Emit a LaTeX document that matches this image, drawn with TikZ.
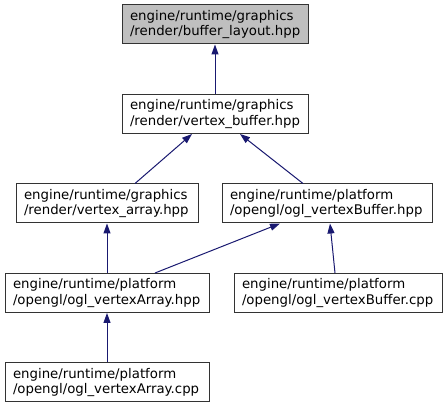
\documentclass[tikz,border=0pt]{standalone}
\usepackage{fontspec}
\setmainfont{DejaVu Sans}
\usepackage{xcolor}
\usepackage{tikz}
\usetikzlibrary{arrows.meta}
\definecolor{depblue}{HTML}{191970}
\definecolor{rootgray}{HTML}{BFBFBF}
\definecolor{framegray}{HTML}{333333}
\tikzset{
  file/.style={draw=framegray,line width=1pt,align=left,inner xsep=8pt,inner ysep=0pt,minimum height=39pt,font=\fontsize{13.3}{15.5}\selectfont},
  dep/.style={depblue,line width=1pt,-{Triangle[length=10pt,width=7pt]}}
}

\begin{document}
\begin{tikzpicture}[x=1pt,y=1pt]
\useasboundingbox (0,0) rectangle (447,409);
\node[file,fill=rootgray,text width=170pt] (layout) at (215,384.5) {engine/runtime/graphics\\/render/buffer\_layout.hpp};
\node[file,text width=170pt] (vbuf) at (215,295) {engine/runtime/graphics\\/render/vertex\_buffer.hpp};
\node[file,text width=166pt] (varr) at (107,205.5) {engine/runtime/graphics\\/render/vertex\_array.hpp};
\node[file,text width=194pt] (oglvbufh) at (327,205.5) {engine/runtime/platform\\/opengl/ogl\_vertexBuffer.hpp};
\node[file,text width=188pt] (oglvarrh) at (107,116) {engine/runtime/platform\\/opengl/ogl\_vertexArray.hpp};
\node[file,text width=192pt] (oglvbufc) at (338,116) {engine/runtime/platform\\/opengl/ogl\_vertexBuffer.cpp};
\node[file,text width=188pt] (oglvarrc) at (107,26.5) {engine/runtime/platform\\/opengl/ogl\_vertexArray.cpp};
\draw[dep] (vbuf.north) -- (layout.south);
\draw[dep] ([xshift=28pt]varr.north) -- ([xshift=-23pt]vbuf.south);
\draw[dep] ([xshift=-24pt]oglvbufh.north) -- ([xshift=25pt]vbuf.south);
\draw[dep] (oglvarrh.north) -- (varr.south);
\draw[dep] ([xshift=48pt]oglvarrh.north) -- ([xshift=-47pt]oglvbufh.south);
\draw[dep] ([xshift=-3pt]oglvbufc.north) -- ([xshift=3pt]oglvbufh.south);
\draw[dep] (oglvarrc.north) -- (oglvarrh.south);
\end{tikzpicture}
\end{document}
